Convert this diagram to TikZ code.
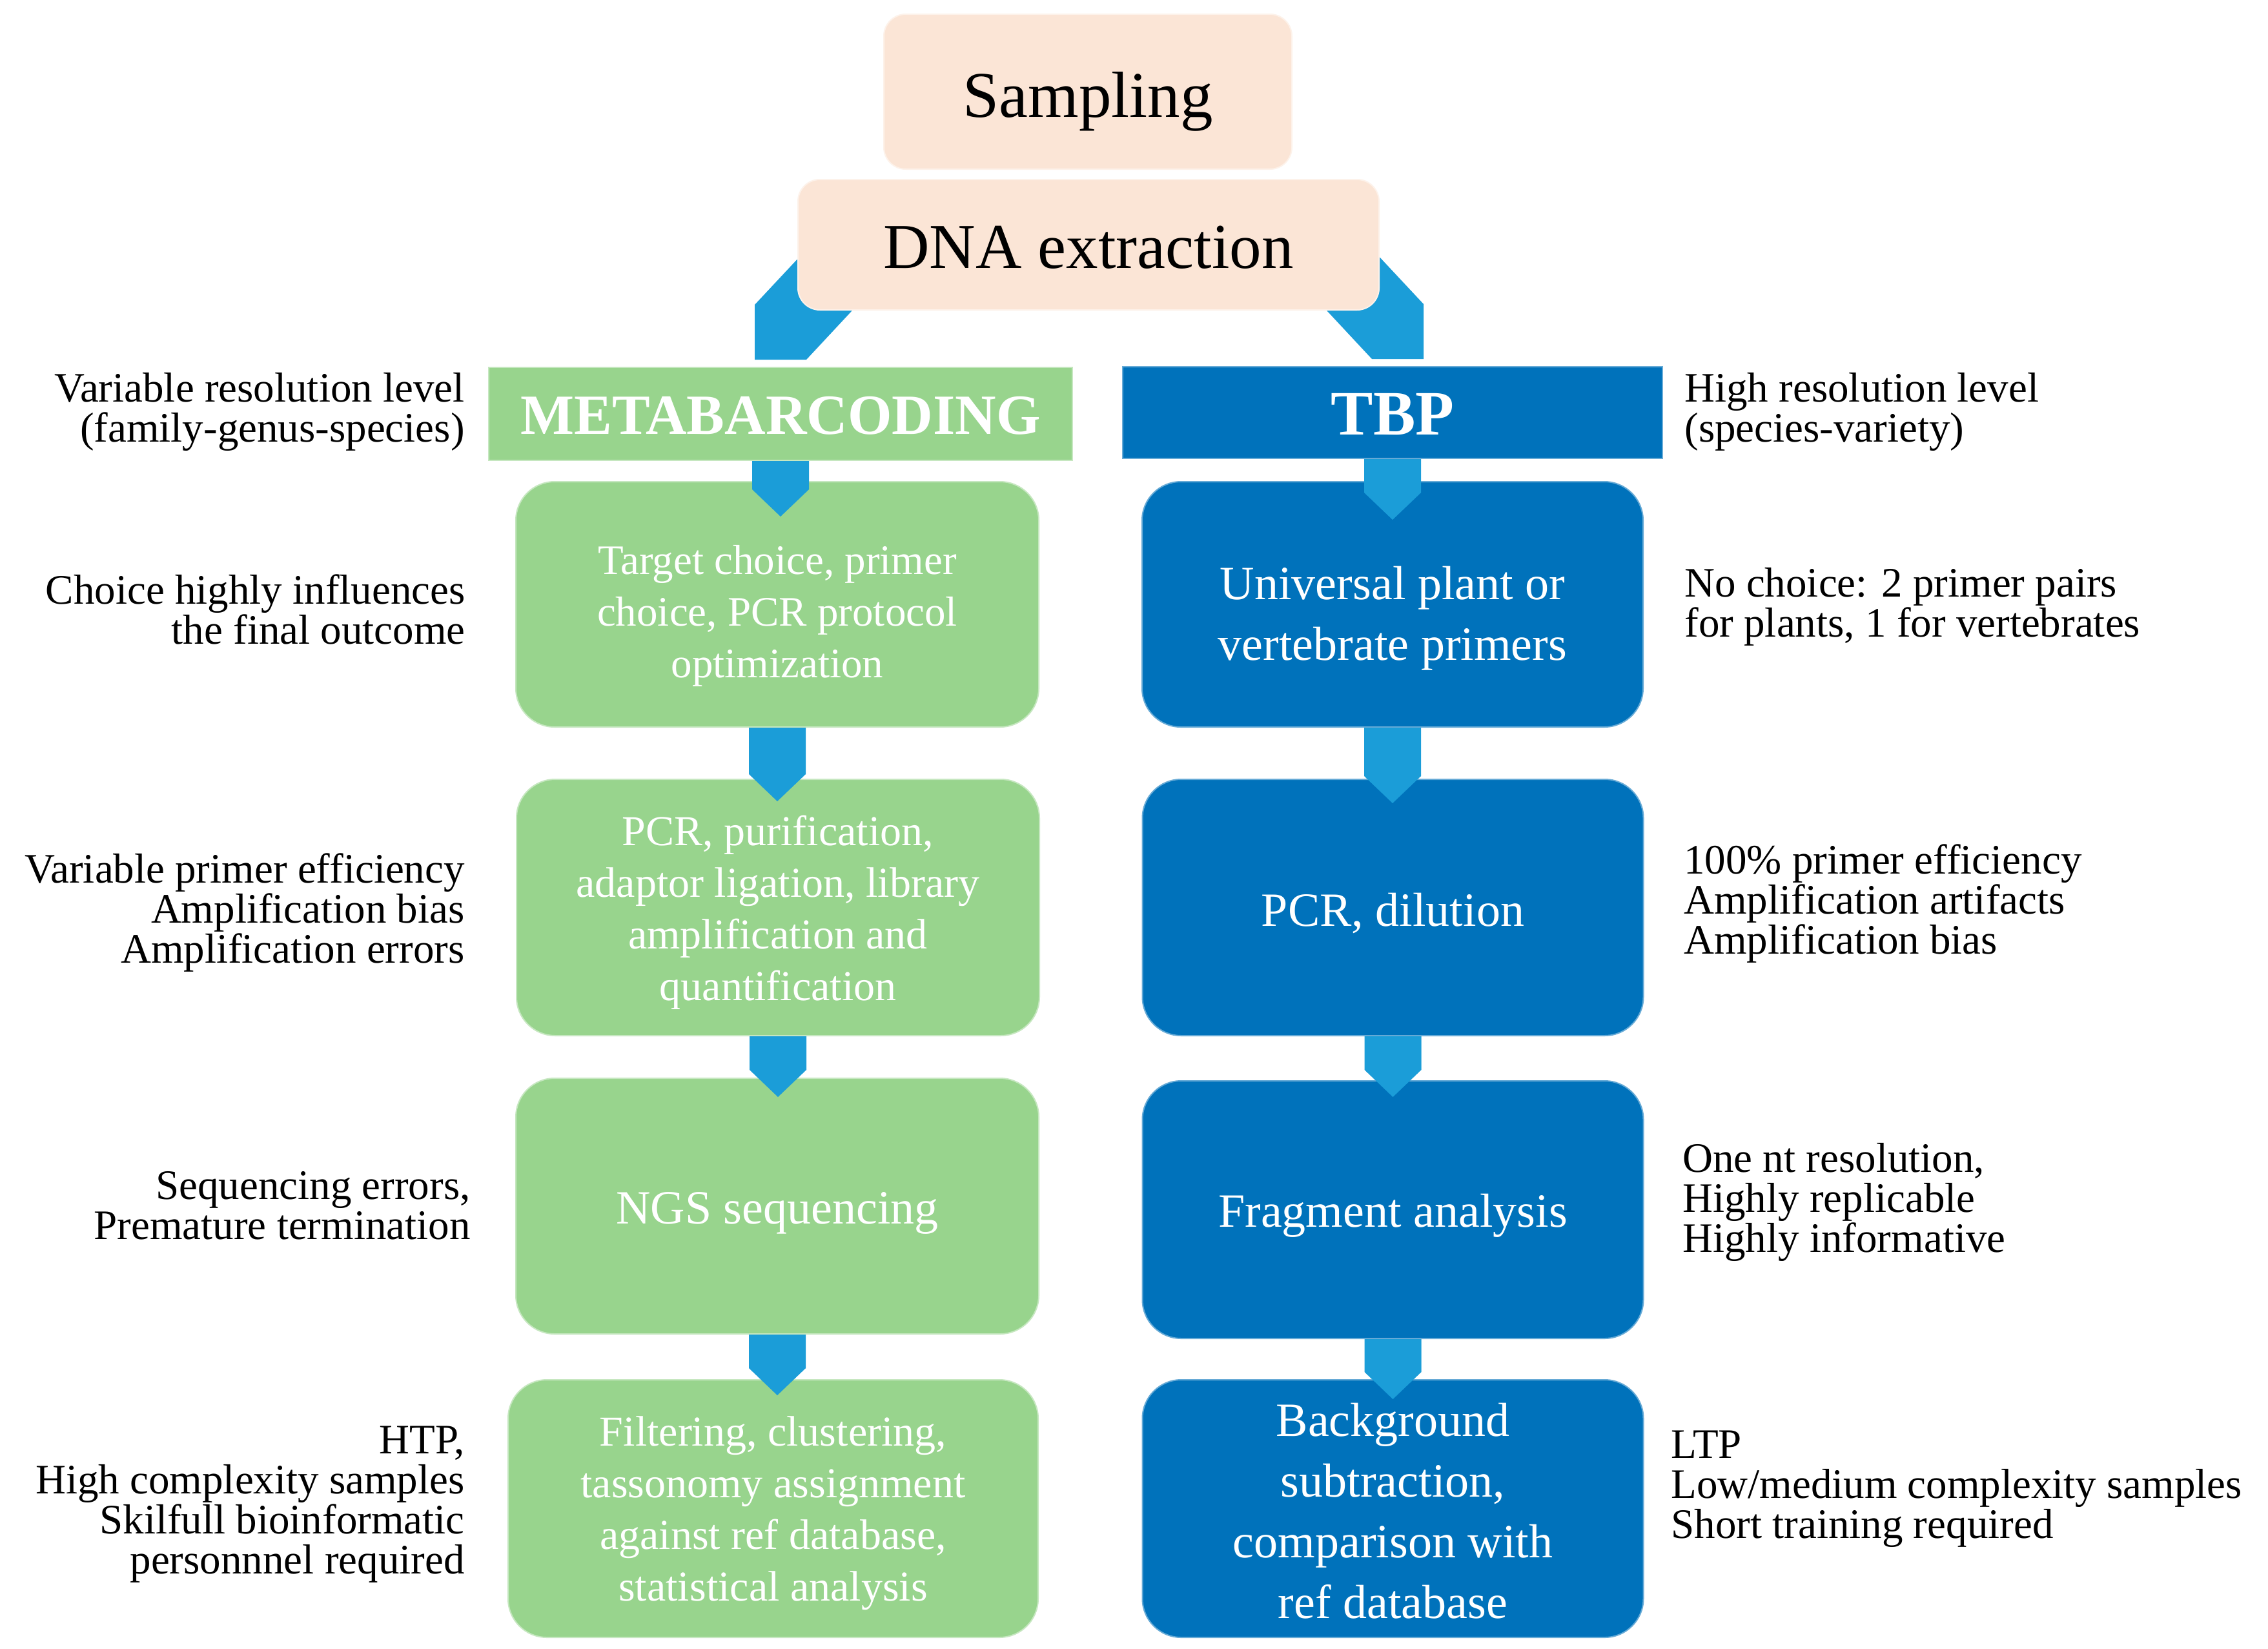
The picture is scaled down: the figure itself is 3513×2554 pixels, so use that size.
\documentclass[tikz,border=0pt]{standalone}
\usepackage{fontspec}
\setmainfont{Liberation Serif}
\usetikzlibrary{calc}
\definecolor{gfill}{RGB}{152,212,141}
\definecolor{bfill}{RGB}{0,114,187}
\definecolor{afill}{RGB}{27,157,216}
\definecolor{pfill}{RGB}{251,229,214}
\newcommand\flowarrow[3]{%
  \coordinate (fa-s) at (#1.south);
  \coordinate (fa-t) at (#1.south |- #2.north);
  \fill[afill] ($(fa-s)+(-44,0)$) -- ($(fa-t)+(-44,#3-42)$) -- ($(fa-t)+(0,#3)$)
     -- ($(fa-t)+(44,#3-42)$) -- ($(fa-s)+(44,0)$) -- cycle;
}
\begin{document}
\begin{tikzpicture}[x=0.5pt,y=-0.5pt,
  gbox/.style={fill=gfill, draw=gfill!55!white, line width=1pt, rounded corners=30pt,
     minimum width=405pt, inner sep=0pt},
  bbox/.style={fill=bfill, draw=bfill!60!white, line width=1pt, rounded corners=30pt,
     minimum width=388pt, inner sep=0pt},
  gtext/.style={text=white, align=center, inner sep=0pt, font=\fontsize{33}{40}\selectfont},
  btext/.style={text=white, align=center, inner sep=0pt, font=\fontsize{37}{47}\selectfont},
  hbox/.style={line width=1pt, text=white, inner sep=0pt},
  pbox/.style={fill=pfill, draw=pfill!50!white, line width=1pt, rounded corners=17pt,
     text=black, inner sep=0pt},
  sidel/.style={anchor=east, align=right, inner sep=0pt, font=\fontsize{32.5}{31}\selectfont},
  sider/.style={anchor=west, align=left, inner sep=0pt, font=\fontsize{32.5}{31}\selectfont}
]
\fill[white] (0,0) rectangle (3513,2554);
\useasboundingbox (0,0) rectangle (3513,2554);

% headers
\node[hbox, fill=gfill, draw=gfill!55!white, minimum width=452pt, minimum height=72pt,
      label={[name=metat, text=white, inner sep=0pt, yshift=-1.5pt,
              font=\fontsize{44}{50}\selectfont\bfseries]center:METABARCODING}] (meta) at (1209,641) {};
\node[hbox, fill=bfill, draw=bfill!60!white, minimum width=418pt, minimum height=71pt,
      label={[name=tbpt, text=white, inner sep=0pt, yshift=-1.5pt,
              font=\fontsize{49}{55}\selectfont\bfseries]center:TBP}] (tbp) at (2157,639) {};

% diagonal connectors from DNA extraction
\coordinate (lc) at ($(meta.north)+(0,-11)$);
\fill[afill] ($(lc)+(-40,0)$) -- ($(lc)+(-40,-85)$) -- ($(lc)+(47,-178)$)
   -- ($(lc)+(206,-178)$) -- ($(lc)+(40,0)$) -- cycle;
\coordinate (rc) at ($(tbp.north)+(8,-11)$);
\fill[afill] ($(rc)+(40,0)$) -- ($(rc)+(40,-85)$) -- ($(rc)+(-47,-178)$)
   -- ($(rc)+(-206,-178)$) -- ($(rc)+(-40,0)$) -- cycle;

% top boxes
\node[pbox, minimum width=316pt, minimum height=120pt,
      label={[name=sampt, inner sep=0pt, yshift=-7.5pt, font=\fontsize{50.5}{56}\selectfont]center:Sampling}]
   (samp) at (1685,142) {};
\node[pbox, minimum width=450pt, minimum height=101pt,
      label={[name=dnat, inner sep=0pt, yshift=-2pt, font=\fontsize{49.5}{56}\selectfont]center:DNA extraction}]
   (dna) at (1686,379) {};

% metabarcoding column
\node[gbox, minimum height=190pt,
      label={[name=g1t, gtext, yshift=-9pt, font=\fontsize{32.5}{40}\selectfont]center:{Target choice, primer\\choice, PCR protocol\\optimization}}]
   (g1) at (1204,936) {};
\node[gbox, minimum height=198.5pt,
      label={[name=g2t, gtext, yshift=-4pt]center:{PCR, purification,\\adaptor ligation, library\\amplification and\\quantification}}]
   (g2) at (1205,1405.5) {};
\node[gbox, minimum height=198pt,
      label={[name=g3t, gtext, yshift=-5.5pt, font=\fontsize{37}{47}\selectfont]center:{NGS sequencing}}]
   (g3) at (1204,1868) {};
\node[gbox, minimum width=410.5pt, minimum height=199.5pt,
      label={[name=g4t, gtext, yshift=-3.5pt]center:{Filtering, clustering,\\tassonomy assignment\\against ref database,\\statistical analysis}}]
   (g4) at (1197.5,2336.5) {};

% TBP column
\node[bbox, minimum height=190pt,
      label={[name=b1t, btext, yshift=-11pt]center:{Universal plant or\\vertebrate primers}}]
   (b1) at (2157,936) {};
\node[bbox, minimum height=198.5pt,
      label={[name=b2t, btext, yshift=-4.5pt]center:{PCR, dilution}}]
   (b2) at (2157.5,1405.5) {};
\node[bbox, minimum height=199.5pt,
      label={[name=b3t, btext, yshift=-4.5pt]center:{Fragment analysis}}]
   (b3) at (2157.5,1873.5) {};
\node[bbox, minimum height=199.5pt,
      label={[name=b4t, btext, yshift=-2pt]center:{Background\\subtraction,\\comparison with\\ref database}}]
   (b4) at (2157.5,2336.5) {};

% arrows
\flowarrow{meta}{g1}{55}
\flowarrow{g1}{g2}{35}
\flowarrow{g2}{g3}{30}
\flowarrow{g3}{g4}{25}
\flowarrow{tbp}{b1}{60}
\flowarrow{b1}{b2}{38}
\flowarrow{b2}{b3}{26}
\flowarrow{b3}{b4}{31}

% left notes
\node[sidel] (l1) at (720,638) {Variable resolution level\\(family-genus-species)};
\node[sidel] (l2) at (721,944) {Choice highly influences\\the final outcome};
\node[sidel] (l3) at (720,1414) {Variable primer efficiency\\Amplification bias\\Amplification errors};
\node[sidel] (l4) at (729,1867) {Sequencing errors,\\Premature termination};
\node[sidel] (l5) at (720,2330) {HTP,\\High complexity samples\\Skilfull bioinformatic\\personnnel required};

% right notes
\node[sider] (r1) at (2609,638) {High resolution level\\(species-variety)};
\node[sider] (r2) at (2609,940) {No choice: 2 primer pairs\\for plants, 1 for vertebrates};
\node[sider] (r3) at (2608,1400) {100\% primer efficiency\\Amplification artifacts\\Amplification bias};
\node[sider] (r4) at (2606,1862) {One nt resolution,\\Highly replicable\\Highly informative};
\node[sider] (r5) at (2588,2306) {LTP\\Low/medium complexity samples\\Short training required};
\end{tikzpicture}
\end{document}
